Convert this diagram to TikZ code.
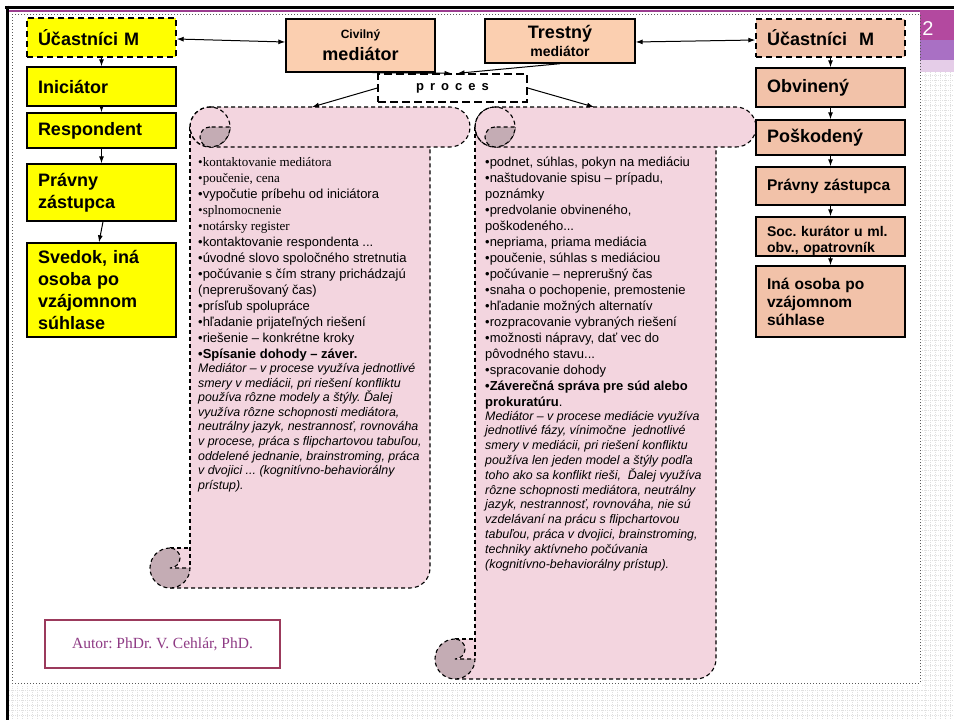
\documentclass[tikz,border=0pt]{standalone}
\usepackage{fontspec}
\setmainfont{Liberation Sans}
\newfontfamily\tnr{Liberation Serif}
\usetikzlibrary{arrows.meta}
\frenchspacing

\definecolor{yfill}{HTML}{FFFF00}
\definecolor{medfill}{HTML}{FBCFB0}
\definecolor{pfill}{HTML}{F2C2A9}
\definecolor{scrollfill}{HTML}{F3D5DF}
\definecolor{curlfill}{HTML}{C4ACB4}
\definecolor{autorline}{HTML}{9B3A5C}
\definecolor{autortext}{HTML}{8E3A84}
\definecolor{slidepurple}{HTML}{9B3D8F}
\definecolor{cornerA}{HTML}{B3499F}
\definecolor{cornerB}{HTML}{A970C4}
\definecolor{cornerC}{HTML}{E5CDE8}
\definecolor{gridgray}{HTML}{E0E0E0}

\newcommand\ddd{...}

% scroll: left, top, right, bottom
\newcommand\scrollshape[4]{%
  \fill[scrollfill] (#1+40,#2+20) -- (#1+40,#4-40) -- (#1+20,#4-40) -- (#1+20,#4)
    -- (#3-60,#4) arc (90:0:20) -- (#3-40,#2+20) -- cycle;
  \draw[scrollline] (#1+40,#2+20) -- (#1+40,#4-20);
  \draw[scrollline] (#1+20,#4-40) -- (#1+40,#4-40);
  \draw[scrollline] (#1+20,#4) -- (#3-60,#4) arc (90:0:20) -- (#3-40,#2+40);
  % top roll
  \draw[scrollline, fill=scrollfill] (#1+60,#2) -- (#3-20,#2) arc (270:450:20)
    -- (#1+60,#2+40) arc (90:270:20) -- cycle;
  \draw[scrollline] (#1+60,#2+20) circle (20);
  \draw[scrollline, fill=curlfill] (#1+60,#2+20) arc (270:90:10) arc (90:0:20) -- cycle;
  % bottom curl
  \draw[scrollline, fill=curlfill] (#1+20,#4-40) arc (270:0:20) -- (#1+20,#4-20)
    arc (90:-90:10) -- cycle;
}

\begin{document}
\begin{tikzpicture}[x=1pt, y=-1pt,
    box/.style={draw, line width=1.4pt, minimum width=149pt, text width=127pt,
      inner xsep=11pt, inner ysep=0pt, align=left,
      font=\bfseries\fontsize{18}{22}\selectfont},
    ybox/.style={box, fill=yfill},
    pbox/.style={box, fill=pfill},
    dbox/.style={dash pattern=on 6pt off 4pt},
    scrollline/.style={line width=1.1pt, dash pattern=on 4pt off 3pt},
    sline/.style={anchor=base west, inner sep=0pt, font=\fontsize{13}{16}\selectfont},
    iline/.style={anchor=base west, inner sep=0pt, font=\itshape\fontsize{12.4}{14.6}\selectfont},
    arr/.style={-{Latex[length=7pt,width=5pt]}, line width=1pt},
    darr/.style={{Latex[length=7pt,width=5pt]}-{Latex[length=7pt,width=5pt]}, line width=1pt},
    bggrid/.style={gridgray, line width=0.8pt, dash pattern=on 1pt off 1pt}]
  \useasboundingbox (0,0) rectangle (954,720);
  \fill[white] (0,0) rectangle (954,720);
  %--- slide background
  \foreach \gx in {925,930,...,950} \draw[bggrid] (\gx,72) -- (\gx,720);
  \foreach \gy in {75,80,...,715} \draw[bggrid] (922,\gy) -- (954,\gy);
  \foreach \gx in {12,17,...,917} \draw[bggrid] (\gx,686) -- (\gx,720);
  \foreach \gy in {690,695,...,715} \draw[bggrid] (9,\gy) -- (922,\gy);
  \fill[cornerA] (920,10) rectangle (954,40);
  \fill[cornerB] (920,40) rectangle (954,60);
  \fill[cornerC] (920,60) rectangle (954,72);
  \node[text=white, inner sep=0pt, font=\fontsize{20}{24}\selectfont] (cislo) at (928,29) {2};
  \draw[line width=3pt] (5,7) -- (954,7);
  \draw[line width=3pt] (7,5.5) -- (7,720);
  \draw[slidepurple, line width=2.5pt] (8.5,11) -- (920,11);
  \draw[gray!70!black, line width=1pt, dotted] (12,14) rectangle (920,683);
  %--- scrolls
  \scrollshape{150}{107}{470}{588}
  \scrollshape{435}{107}{756}{679}
  %--- civil text
  \foreach \linetext [count=\i from 0] in {
      {\tnr •kontaktovanie mediátora},
      {\tnr •poučenie, cena},
      {•vypočutie príbehu od iniciátora},
      {\tnr •splnomocnenie},
      {\tnr •notársky register},
      {•kontaktovanie respondenta \ddd},
      {•úvodné slovo spoločného stretnutia},
      {•počúvanie s čím strany prichádzajú},
      {(neprerušovaný čas)},
      {•prísľub spolupráce},
      {•hľadanie prijateľných riešení},
      {•riešenie – konkrétne kroky},
      {\textbf{•Spísanie dohody – záver.}}}
    \node[sline] (lb\i) at (198,166.5+16*\i) {\linetext};
  \foreach \linetext [count=\i from 0] in {
      {Mediátor – v procese využíva jednotlivé},
      {smery v mediácii, pri riešení konfliktu},
      {používa rôzne modely a štýly. Ďalej},
      {využíva rôzne schopnosti mediátora,},
      {neutrálny jazyk, nestrannosť, rovnováha},
      {v procese, práca s flipchartovou tabuľou,},
      {oddelené jednanie, brainstroming, práca},
      {v dvojici \ddd\ (kognitívno-behaviorálny},
      {prístup).}}
    \node[iline] (li\i) at (198,372.5+14.6*\i) {\linetext};
  %--- criminal text
  \foreach \linetext [count=\i from 0] in {
      {•podnet, súhlas, pokyn na mediáciu},
      {•naštudovanie spisu – prípadu,},
      {poznámky},
      {•predvolanie obvineného,},
      {poškodeného\ddd},
      {•nepriama, priama mediácia},
      {•poučenie, súhlas s mediáciou},
      {•počúvanie – neprerušný čas},
      {•snaha o pochopenie, premostenie},
      {•hľadanie možných alternatív},
      {•rozpracovanie vybraných riešení},
      {•možnosti nápravy, dať vec do},
      {pôvodného stavu\ddd},
      {•spracovanie dohody},
      {\textbf{•Záverečná správa pre súd alebo}},
      {\textbf{prokuratúru}.}}
    \node[sline] (rb\i) at (485,166.5+16*\i) {\linetext};
  \foreach \linetext [count=\i from 0] in {
      {Mediátor – v procese mediácie využíva},
      {jednotlivé fázy, vínimočne\ \ jednotlivé},
      {smery v mediácii, pri riešení konfliktu},
      {používa len jeden model a štýly podľa},
      {toho ako sa konflikt rieši,\ \ Ďalej využíva},
      {rôzne schopnosti mediátora, neutrálny},
      {jazyk, nestrannosť, rovnováha, nie sú},
      {vzdelávaní na prácu s flipchartovou},
      {tabuľou, práca v dvojici, brainstroming,},
      {techniky aktívneho počúvania},
      {(kognitívno-behaviorálny prístup).}}
    \node[iline] (ri\i) at (485,420+14.8*\i) {\linetext};
  %--- left column
  \node[ybox, dbox, minimum height=39pt] (lum) at (101.5,37.5) {Účastníci M};
  \node[ybox, minimum height=39pt] (ini) at (101.5,86.5) {Iniciátor};
  \node[ybox, minimum height=35pt] (resp) at (101.5,130.5) {Respondent};
  \node[ybox, minimum height=57pt] (lpz) at (101.5,192.5) {Právny\\zástupca};
  \node[ybox, minimum height=94pt] (sved) at (101.5,290) {Svedok, iná\\osoba po\\vzájomnom\\súhlase};
  %--- mediators
  \node[box, fill=medfill, align=center, minimum height=53pt] (civ) at (360.5,45.5)
    {{\fontsize{12}{14}\selectfont Civilný}\\mediátor};
  \node[box, fill=medfill, align=center, minimum width=150pt, minimum height=44pt] (tre) at (560,41)
    {Trestný\\[-4pt]{\fontsize{14}{16}\selectfont mediátor}};
  \node[draw, dash pattern=on 8pt off 4pt, line width=1.4pt, fill=white, minimum width=149pt,
    minimum height=28pt, font=\bfseries\fontsize{13}{15}\selectfont] (proc) at (452.5,88)
    {p\hspace{6pt}r\hspace{6pt}o\hspace{6pt}c\hspace{6pt}e\hspace{6pt}s};
  %--- right column
  \node[pbox, dbox, minimum height=38pt] (rum) at (830.5,38) {Účastníci\ \ M};
  \node[pbox, minimum height=39pt] (obv) at (830.5,87.5) {Obvinený};
  \node[pbox, minimum height=35pt] (posk) at (830.5,137.5) {Poškodený};
  \node[pbox, minimum height=38pt, font=\bfseries\fontsize{15.5}{18}\selectfont] (rpz) at (830.5,186)
    {Právny zástupca};
  \node[pbox, minimum height=39pt, font=\bfseries\fontsize{14}{16}\selectfont] (soc) at (830.5,236.5)
    {\rule{0pt}{18pt}Soc. kurátor u ml.\\obv., opatrovník};
  \node[pbox, minimum height=71pt, font=\bfseries\fontsize{15.5}{18}\selectfont] (ina) at (830.5,301.5)
    {Iná osoba po\\vzájomnom\\súhlase};
  %--- author
  \node[draw=autorline, line width=2pt, minimum width=235pt, minimum height=48pt, text=autortext,
    font=\tnr\fontsize{15.5}{18}\selectfont] (autor) at (162.5,644) {Autor: PhDr. V. Cehlár, PhD.};
  %--- arrows
  \draw[arr] (lum) -- (ini);
  \draw[arr] (ini) -- (resp);
  \draw[arr] (resp) -- (lpz);
  \draw[arr] ([xshift=1.5pt]lpz.south) -- ([xshift=-2.5pt]sved.north);
  \draw[arr] (rum) -- (obv);
  \draw[arr] (obv) -- (posk);
  \draw[arr] (posk) -- (rpz);
  \draw[arr] (rpz) -- (soc);
  \draw[arr] (soc) -- (ina);
  \draw[darr] ([yshift=-1.5pt]lum.east) -- ([yshift=3.5pt]civ.west);
  \draw[darr] ([yshift=-1pt]tre.east) -- ([yshift=-2pt]rum.west);
  \draw[arr] ([xshift=12pt]civ.south) -- ([xshift=-1pt]proc.north);
  \draw[arr] (tre.south) -- ([xshift=5pt]proc.north);
  \coordinate (ltop) at (312,107);
  \coordinate (rtop) at (594,107);
  \draw[arr] (proc.west) -- (ltop);
  \draw[arr] (proc.east) -- (rtop);
\end{tikzpicture}
\end{document}
